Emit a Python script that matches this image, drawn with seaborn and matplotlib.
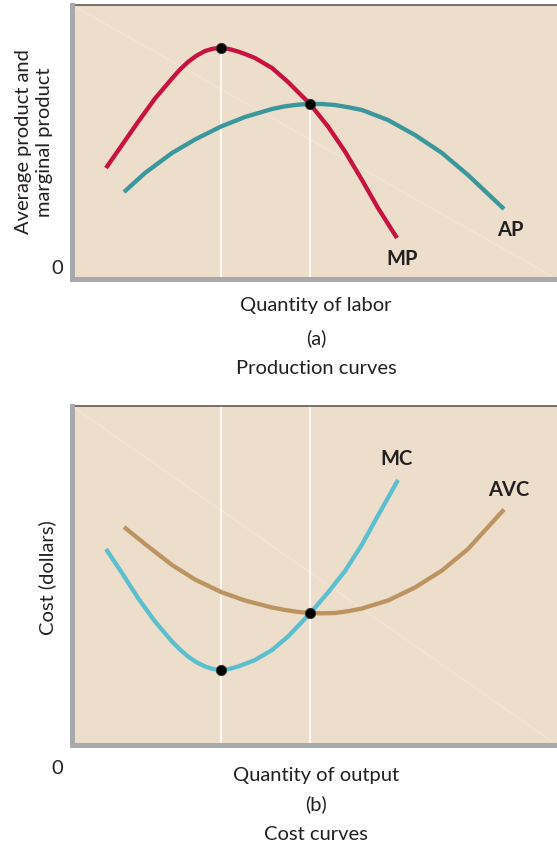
import matplotlib
matplotlib.use("Agg")
import matplotlib.pyplot as plt
import seaborn as sns

# Production curves (panel a), x = labor, y = product
mp_x = [34, 50, 66, 83, 100, 108, 116, 124, 133, 141, 149, 157, 166, 174, 183, 200, 216, 238, 256, 273, 290, 306, 325]
mp_y = [111, 134, 157, 180.5, 200.5, 209.5, 217, 223, 228, 230.3, 231, 230, 227.5, 224.6, 221, 211, 197, 175, 152.5,
        127.5, 99, 71, 41]
ap_x = [52, 73, 100, 123, 149, 173, 200, 212, 223, 231, 238, 250, 263, 276, 290, 316, 343, 370, 396, 432]
ap_y = [87, 106, 126, 139.5, 152.5, 162, 170, 172.5, 174, 174.7, 175, 175, 174, 171.8, 169, 159, 144, 126, 104, 70]
prod_dots_x = [149, 238]
prod_dots_y = [231, 175]

# Cost curves (panel b), x = output, y = cost
mc_x = [34, 50, 66, 83, 100, 108, 116, 124, 133, 141, 149, 157, 166, 174, 183, 200, 216, 238, 256, 273, 290, 306, 326]
mc_y = [196, 172, 147, 123.5, 103.5, 95.5, 88.5, 83, 78.5, 76, 75, 76, 78.5, 81.5, 85, 95, 108.5, 131.5, 152.5, 174,
        200.5, 229.5, 265]
avc_x = [52, 73, 100, 123, 149, 173, 200, 212, 223, 231, 238, 250, 263, 276, 290, 316, 343, 370, 396, 432]
avc_y = [218, 201, 180, 165.5, 153, 144.5, 137.5, 135.2, 133.5, 132.6, 132, 131.7, 132, 133.8, 136.5, 144.5, 157.5,
         174.5, 196, 235.5]
cost_dots_x = [149, 238]
cost_dots_y = [75, 132]

BG = '#ecdecb'
GRAY = '#a8a9ad'
TOP = '#5a4c42'
TXT = '#231f20'

sns.set_style('white')
plt.rcParams['font.family'] = ['Lato', 'DejaVu Sans']

fig = plt.figure(figsize=(5.57, 8.48), dpi=100)
ax1 = fig.add_axes([72 / 557, 1 - 279 / 848, 1 - 72 / 557, 274 / 848])
ax2 = fig.add_axes([72 / 557, 1 - 745 / 848, 1 - 72 / 557, 339 / 848])

line_kw = dict(lw=3.1, sort=False, zorder=3, solid_joinstyle='round', solid_capstyle='butt')


def style_axes(ax, ymax):
    ax.set_facecolor(BG)
    ax.set_xlim(0, 485)
    ax.set_ylim(0, ymax)
    ax.set_xticks([])
    ax.set_yticks([])
    ax.set_xlabel('')
    ax.set_ylabel('')
    for s in ['left', 'bottom']:
        ax.spines[s].set_color(GRAY)
        ax.spines[s].set_linewidth(3.6)
        ax.spines[s].set_zorder(5)
    ax.spines['top'].set_color(TOP)
    ax.spines['top'].set_linewidth(1.1)
    ax.spines['right'].set_visible(False)
    # faint diagonal across the panel
    ax.plot([0, 1], [1, 0], transform=ax.transAxes, color='white', lw=0.6, alpha=0.3, zorder=1)


# Panel (a)
style_axes(ax1, 274)
for xv, yv in zip(prod_dots_x, prod_dots_y):
    ax1.plot([xv, xv], [0, yv], color='white', lw=1.2, zorder=2)
sns.lineplot(x=mp_x, y=mp_y, ax=ax1, color='#c8123f', **line_kw)
sns.lineplot(x=ap_x, y=ap_y, ax=ax1, color='#3a979b', **line_kw)
sns.scatterplot(x=prod_dots_x, y=prod_dots_y, ax=ax1, color='black', s=55, edgecolor='#333333', zorder=4)
ax1.text(330.5, 20, 'MP', fontsize=14.5, fontweight='bold', color=TXT, ha='center', va='center')
ax1.text(438, 49, 'AP', fontsize=14.5, fontweight='bold', color=TXT, ha='center', va='center')

# Panel (b)
style_axes(ax2, 339)
for xv in cost_dots_x:
    ax2.axvline(xv, color='white', lw=1.2, zorder=2)
sns.lineplot(x=avc_x, y=avc_y, ax=ax2, color='#bc9461', **line_kw)
sns.lineplot(x=mc_x, y=mc_y, ax=ax2, color='#5cbfcf', **line_kw)
sns.scatterplot(x=cost_dots_x, y=cost_dots_y, ax=ax2, color='black', s=55, edgecolor='#333333', zorder=4)
ax2.text(324, 286, 'MC', fontsize=14.5, fontweight='bold', color=TXT, ha='center', va='center')
ax2.text(437, 255, 'AVC', fontsize=14.5, fontweight='bold', color=TXT, ha='center', va='center')


# Surrounding labels (pixel positions of the original layout)
def ftext(px, py, s, **kw):
    fig.text(px / 557, 1 - py / 848, s, color=TXT, ha='center', va='center', **kw)


ftext(57, 268, '0', fontsize=14.5)
ftext(316, 306, 'Quantity of labor', fontsize=14.5)
ftext(316, 338, '(a)', fontsize=14.5)
ftext(316, 368, 'Production curves', fontsize=14.5)
ftext(34, 142, 'Average product and\nmarginal product', fontsize=14.5, rotation=90, linespacing=1.3)

ftext(57, 768, '0', fontsize=14.5)
ftext(316, 775, 'Quantity of output', fontsize=14.5)
ftext(316, 804, '(b)', fontsize=14.5)
ftext(316, 835, 'Cost curves', fontsize=14.5)
ftext(47, 578, 'Cost (dollars)', fontsize=14.5, rotation=90)

fig.savefig('out.png', dpi=100, facecolor='white')
